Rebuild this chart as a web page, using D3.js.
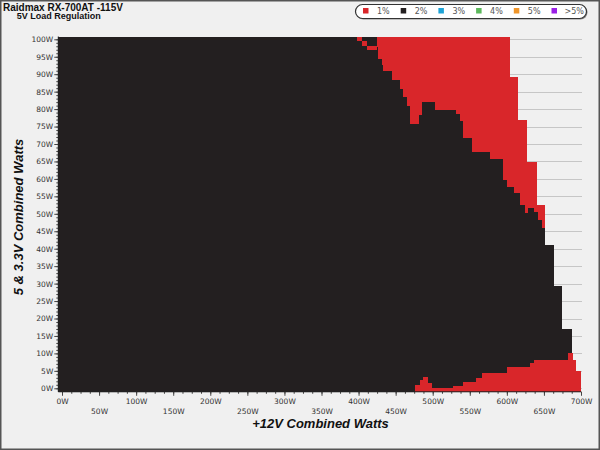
<!DOCTYPE html>
<html>
<head>
<meta charset="utf-8">
<script src="https://cdn.jsdelivr.net/npm/d3@7"></script>
<style>
  html, body { margin: 0; padding: 0; background: #f0f0f0; }
  svg { display: block; }
</style>
</head>
<body>
<div id="chart"></div>
<script>
// legend levels
const levels = ["1%", "2%", "3%", "4%", "5%", ">5%"];
const levelColors = ["#d9262a", "#231f20", "#1ea3d6", "#5cb85c", "#f0962a", "#9a1fe6"];

// black (2%) region: top of the 5V load for each 12V column start (step after)
const blackX   = [-5, 424.5, 426, 431, 433, 444.7, 456, 460, 465, 469.4, 481, 485, 503, 532, 537, 541, 553, 577, 595, 600, 609, 618, 624.5, 629, 636, 642, 647, 651.5, 663.6, 675, 687.5];
const blackTop = [100.8, 97.8, 94.4, 92.5, 91, 88.2, 85.8, 83.4, 81, 75.8, 78.2, 82, 79.8, 78.6, 76.7, 71.8, 67.7, 65.8, 59.7, 57.8, 55.9, 52.6, 50.3, 51.6, 50.5, 48.3, 46, 41.1, 29.2, 17, 17];

// red (1%) region above / right of the black one
const redTopX = [398, 604, 615.5, 627.5, 640, 651.5, 689, 693, 700];
const redTop  = [100.8, 89.2, 76.9, 64.8, 52.6, 10.1, 8.2, 5.1, 5.1];

// red (1%) region at the bottom, under the black one
const redLowX = [476, 483, 487, 494, 498.6, 528, 541, 559, 566, 600, 631, 636, 683, 687.5];
const redLow  = [1.0, 2.4, 3.1, 1.5, 0, 0.7, 1.9, 2.9, 4.4, 6.1, 7.2, 8.2, 10.1, 10.1];

// thin red strip in the top left corner of the red area
const sliverX  = [397.6, 404, 411, 422, 425];
const sliverLo = [99.6, 98.2, 96.8, 96.8, 96.8];
const sliverHi = [100.8, 99.6, 98.2, 98.2, 98.2];

const base = -1; // cells reach half a step under 0W

const w = 600, h = 450;

const svg = d3.select("#chart").append("svg")
  .attr("width", w)
  .attr("height", h);

svg.append("rect")
  .attr("x", 0.75).attr("y", 0.75)
  .attr("width", w - 1.5).attr("height", h - 1.5)
  .attr("fill", "#f0f0f0")
  .attr("stroke", "#555")
  .attr("stroke-width", 1.5);

const x = d3.scaleLinear().domain([0, 700]).range([62, 581]);
const y = d3.scaleLinear().domain([0, 100]).range([388.3, 39.3]);

const axisX0 = x(-5);
const axisY0 = y(base);

// horizontal grid
svg.append("g")
  .selectAll("line")
  .data(d3.range(0, 101, 5))
  .enter()
  .append("line")
  .attr("x1", axisX0)
  .attr("x2", 582)
  .attr("y1", (d) => Math.round(y(d)) + 0.5)
  .attr("y2", (d) => Math.round(y(d)) + 0.5)
  .attr("stroke", "#c6c6c6")
  .attr("stroke-width", 1);

function stepArea(xs, lo, hi) {
  const pts = xs.map((v, i) => ({ x: v, lo: lo(i), hi: hi(i) }));
  return d3.area()
    .curve(d3.curveStepAfter)
    .x((d) => x(d.x))
    .y0((d) => y(d.lo))
    .y1((d) => y(d.hi))(pts);
}

// red top region first, black drawn over it, then red bottom strip
svg.append("path")
  .attr("d", stepArea(redTopX, () => base, (i) => redTop[i]))
  .attr("fill", levelColors[0])
  .attr("shape-rendering", "crispEdges");

svg.append("path")
  .attr("d", stepArea(blackX, () => base, (i) => blackTop[i]))
  .attr("fill", levelColors[1])
  .attr("shape-rendering", "crispEdges");

svg.append("path")
  .attr("d", stepArea(redLowX, () => base, (i) => redLow[i]))
  .attr("fill", levelColors[0])
  .attr("shape-rendering", "crispEdges");

svg.append("path")
  .attr("d", stepArea(sliverX, (i) => sliverLo[i], (i) => sliverHi[i]))
  .attr("fill", levelColors[0])
  .attr("shape-rendering", "crispEdges");

// y axis
const yMinor = svg.append("g")
  .attr("transform", "translate(" + axisX0 + ",0)")
  .call(d3.axisLeft(y).tickValues(d3.range(0, 101, 1)).tickSize(2).tickFormat(""));
yMinor.select(".domain").remove();

const yAxis = svg.append("g")
  .attr("transform", "translate(" + axisX0 + ",0)")
  .call(d3.axisLeft(y).tickValues(d3.range(0, 101, 5)).tickSize(4).tickPadding(1).tickFormat((d) => d + "W"));
yAxis.select(".domain").remove();

// x axis
const xMinor = svg.append("g")
  .attr("transform", "translate(0," + axisY0 + ")")
  .call(d3.axisBottom(x).tickValues(d3.range(0, 701, 12.5)).tickSize(2).tickFormat(""));
xMinor.select(".domain").remove();

const xAxis = svg.append("g")
  .attr("transform", "translate(0," + axisY0 + ")")
  .call(d3.axisBottom(x).tickValues(d3.range(0, 701, 50)).tickSize(4).tickFormat((d) => d + "W"));
xAxis.select(".domain").remove();
xAxis.selectAll("text")
  .attr("y", (d, i) => (i % 2 === 0 ? 7 : 16.4));

svg.selectAll(".tick line").attr("stroke", "#444");
svg.selectAll(".tick text")
  .attr("fill", "#333")
  .style("font-family", "DejaVu Sans")
  .style("font-size", "7.5px");

svg.append("line")
  .attr("x1", axisX0).attr("x2", axisX0)
  .attr("y1", y(100.8)).attr("y2", axisY0)
  .attr("stroke", "#222");
svg.append("line")
  .attr("x1", axisX0).attr("x2", x(700))
  .attr("y1", axisY0).attr("y2", axisY0)
  .attr("stroke", "#222");

// titles
svg.append("text")
  .attr("x", 3).attr("y", 10.7)
  .style("font-family", "Liberation Sans")
  .style("font-weight", "bold")
  .style("font-size", "10px")
  .attr("fill", "#111")
  .text("Raidmax RX-700AT -115V");

svg.append("text")
  .attr("x", 16.7).attr("y", 19.3)
  .style("font-family", "Liberation Sans")
  .style("font-weight", "bold")
  .style("font-size", "9px")
  .attr("fill", "#111")
  .text("5V Load Regulation");

svg.append("text")
  .attr("x", 320.5).attr("y", 428)
  .attr("text-anchor", "middle")
  .style("font-family", "Liberation Sans")
  .style("font-weight", "bold")
  .style("font-style", "italic")
  .style("font-size", "13px")
  .attr("fill", "#111")
  .text("+12V Combined Watts");

svg.append("text")
  .attr("transform", "translate(23,217) rotate(-90)")
  .attr("text-anchor", "middle")
  .style("font-family", "Liberation Sans")
  .style("font-weight", "bold")
  .style("font-style", "italic")
  .style("font-size", "13px")
  .attr("fill", "#111")
  .text("5 & 3.3V Combined Watts");

// legend
const legend = svg.append("g");
legend.append("rect")
  .attr("x", 356.5).attr("y", 5.5)
  .attr("width", 231).attr("height", 14)
  .attr("rx", 7)
  .attr("fill", "#888");
legend.append("rect")
  .attr("x", 355.5).attr("y", 4.5)
  .attr("width", 231).attr("height", 14)
  .attr("rx", 7)
  .attr("fill", "#fff")
  .attr("stroke", "#333")
  .attr("stroke-width", 1.2);

const item = legend.selectAll(".item")
  .data(levels)
  .enter()
  .append("g")
  .attr("class", "item")
  .attr("transform", (d, i) => "translate(" + (363 + i * 37.7) + ",0)");
item.append("rect")
  .attr("x", 0).attr("y", 8)
  .attr("width", 5.5).attr("height", 5.5)
  .attr("fill", (d, i) => levelColors[i]);
item.append("text")
  .attr("x", (d, i) => (i === 5 ? 13 : 14))
  .attr("y", 13.6)
  .style("font-family", "DejaVu Sans")
  .style("font-size", "8px")
  .attr("fill", "#555")
  .text((d) => d);
</script>
</body>
</html>
